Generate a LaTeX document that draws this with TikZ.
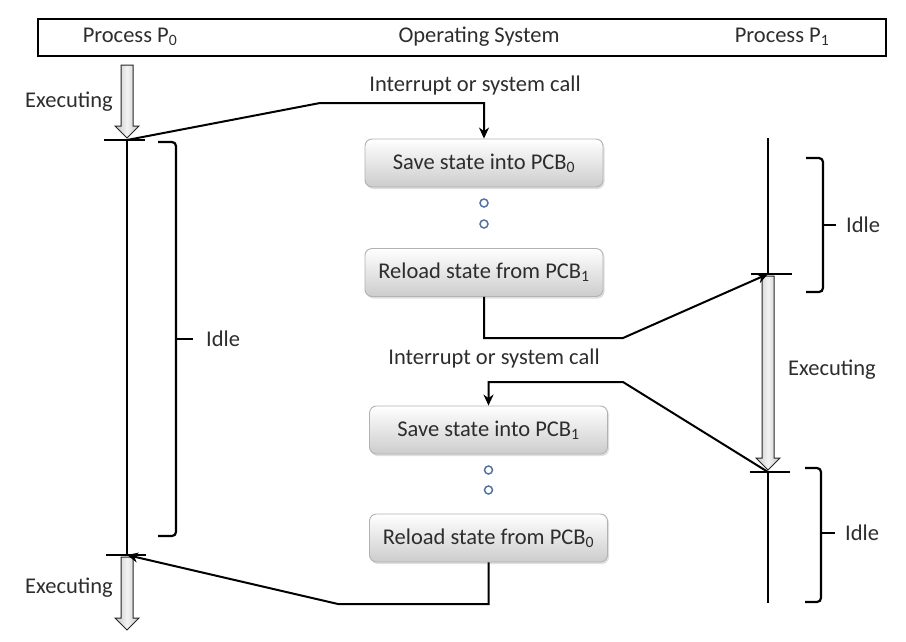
\documentclass[tikz,border=0pt]{standalone}
\usepackage{fontspec}
\setmainfont{Carlito}
\usetikzlibrary{arrows.meta,shadows}
\definecolor{dotblue}{RGB}{85,115,160}
\definecolor{txt}{RGB}{45,45,45}
\begin{document}
\begin{tikzpicture}[x=1pt,y=-1pt,
  lbl/.style={font=\fontsize{22.5}{27}\selectfont, text=txt, inner sep=0pt},
  osbox/.style={draw=gray!60, line width=0.9pt, rounded corners=7pt, top color=white, bottom color=gray!40,
    minimum width=238pt, minimum height=48pt, inner sep=0pt,
    drop shadow={shadow xshift=1.5pt, shadow yshift=-2pt, opacity=0.25},
    font=\fontsize{22.5}{27}\selectfont, text=txt},
  ln/.style={line width=2.2pt, black},
  conn/.style={line width=2pt, black, -{Stealth[length=11pt,width=10pt]}},
  garrow/.style={draw=black!85, line width=1pt, left color=gray!45, right color=gray!45, middle color=gray!10},
  bracestyle/.style={line width=2.2pt, black, rounded corners=4pt},
  dot/.style={circle, draw=dotblue, line width=1.5pt, minimum size=8pt, inner sep=0pt}]
\useasboundingbox (0,0) rectangle (906,641);

% header
\node[draw, line width=1.8pt, minimum width=848pt, minimum height=37pt, inner sep=0pt, anchor=north west] (hdr) at (37,18) {};
\node[lbl] (hp0) at (130,37) {Process P\textsubscript{0}};
\node[lbl] (hos) at (479,37) {Operating System};
\node[lbl] (hp1) at (782,37) {Process P\textsubscript{1}};

% tick coordinates
\coordinate (t0a) at (127,140);
\coordinate (t0b) at (127,555);
\coordinate (t1a) at (768,274);
\coordinate (t1b) at (768,472);

% gray executing arrows
\path[garrow] (121,65) -- (133,65) -- (133,126) -- (139,126) -- (127,138) -- (115,126) -- (121,126) -- cycle;
\path[garrow] (121,557) -- (133,557) -- (133,618) -- (139,618) -- (127,630) -- (115,618) -- (121,618) -- cycle;
\path[garrow] (762,276) -- (774,276) -- (774,458) -- (780,458) -- (768,470) -- (756,458) -- (762,458) -- cycle;

% timelines
\draw[ln] (t0a) -- (t0b);
\draw[ln] (768,138) -- (t1a);
\draw[ln] (t1b) -- (768,603);

% ticks
\draw[ln] (104,140) -- (145,140);
\draw[ln] (106,555) -- (146,555);
\draw[ln] (751,274) -- (792,274);
\draw[ln] (750,472) -- (790,472);

% braces
\draw[bracestyle] (158,142) -- (176,142) -- (176,536) -- (158,536);
\draw[ln] (176,339) -- (193,339);
\draw[bracestyle] (806,158) -- (823,158) -- (823,292) -- (806,292);
\draw[ln] (823,225) -- (836,225);
\draw[bracestyle] (805,468) -- (821,468) -- (821,602) -- (805,602);
\draw[ln] (821,533) -- (835,533);

% OS boxes
\node[osbox] (sv0) at (484,163) {Save state into PCB\textsubscript{0}};
\node[osbox] (rl1) at (484,272.5) {Reload state from PCB\textsubscript{1}};
\node[osbox] (sv1) at (488.5,430) {Save state into PCB\textsubscript{1}};
\node[osbox] (rl0) at (488.5,538) {Reload state from PCB\textsubscript{0}};

% dots
\node[dot] (d1) at (484,203) {};
\node[dot] (d2) at (484,224) {};
\node[dot] (d3) at (488.5,470) {};
\node[dot] (d4) at (488.5,490) {};

% labels
\node[lbl, anchor=east] (ex0a) at (113,102) {Executing};
\node[lbl, anchor=east] (ex0b) at (113,588) {Executing};
\node[lbl, anchor=west] (ex1) at (788,370) {Executing};
\node[lbl, anchor=west] (id0) at (206,339) {Idle};
\node[lbl, anchor=west] (id1a) at (846,225) {Idle};
\node[lbl, anchor=west] (id1b) at (845,533) {Idle};
\node[lbl] (int1) at (475,85) {Interrupt or system call};
\node[lbl] (int2) at (494,358) {Interrupt or system call};

% connectors
\draw[conn] (t0a) -- (320,103) -| (sv0.north);
\draw[conn] (rl1.south) |- (623,338) -- (t1a);
\draw[conn] (t1b) -- (623,382) -| (sv1.north);
\draw[conn] (rl0.south) |- (338,604) -- (t0b);
\end{tikzpicture}
\end{document}
